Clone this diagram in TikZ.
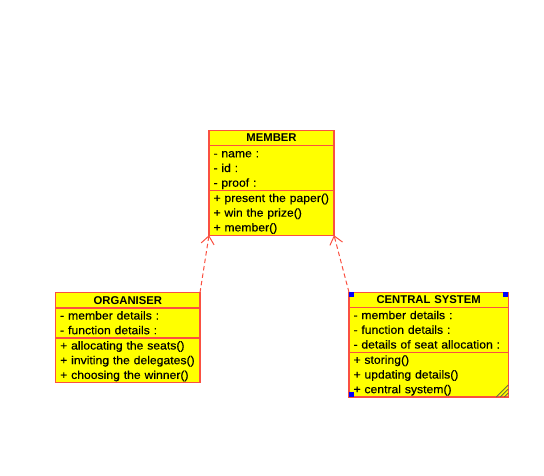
\documentclass[tikz,border=0pt]{standalone}
\usepackage{fontspec}
\setmainfont{Liberation Sans}
\newfontfamily\entryfont[FakeStretch=1.06, FakeBold=0.3]{Liberation Sans}
\usetikzlibrary{positioning,arrows.meta}
\definecolor{umlred}{RGB}{250,80,65}
\definecolor{umlyellow}{RGB}{255,255,0}
\definecolor{gripgray}{RGB}{110,110,60}
\newcommand{\ls}{\rule[-3.5pt]{0pt}{14.7pt}}

\begin{document}
\begin{tikzpicture}[x=1pt, y=-1pt,
    classhead/.style={draw=umlred, fill=umlyellow, line width=1.3pt, outer sep=0pt,
      inner xsep=4.5pt, inner ysep=0.3pt, align=center,
      font=\fontsize{11.3}{14.7}\selectfont\bfseries},
    classpart/.style={draw=umlred, fill=umlyellow, line width=1.3pt, outer sep=0pt,
      inner xsep=4.5pt, inner ysep=0.3pt, align=left,
      font=\entryfont\fontsize{11.5}{14.7}\selectfont},
    dep/.style={draw=umlred, line width=1pt, dash pattern=on 4.5pt off 3pt,
      -{Straight Barb[length=8pt, width=13pt]}}]
  \useasboundingbox (0,0) rectangle (544,476);

  % member
  \node[classhead, text width=116pt, anchor=north west] (member-head) at (209,130.5) {\ls MEMBER};
  \node[classpart, text width=116pt, below=0pt of member-head] (member-attr) {\ls- name :\\\ls- id :\\\ls- proof :};
  \node[classpart, text width=116pt, below=0pt of member-attr] (member-ops) {\ls+ present the paper()\\\ls+ win the prize()\\\ls+ member()};

  % organiser
  \node[classhead, text width=135.3pt, anchor=north west] (org-head) at (55.7,292.7) {\ls ORGANISER};
  \node[classpart, text width=135.3pt, below=0pt of org-head] (org-attr) {\ls- member details :\\\ls- function details :};
  \node[classpart, text width=135.3pt, below=0pt of org-attr] (org-ops) {\ls+ allocating the seats()\\\ls+ inviting the delegates()\\\ls+ choosing the winner()};

  % central system (selected)
  \node[classhead, text width=150.3pt, anchor=north west] (central-head) at (349,292.3) {\ls CENTRAL SYSTEM};
  \node[classpart, text width=150.3pt, below=0pt of central-head] (central-attr) {\ls- member details :\\\ls- function details :\\\ls- details of seat allocation :};
  \node[classpart, text width=150.3pt, below=0pt of central-attr] (central-ops) {\ls+ storing()\\\ls+ updating details()\\\ls+ central system()};

  \fill[blue] (central-head.north west) rectangle ++(5,5);
  \fill[blue] (central-head.north east) rectangle ++(-5,5);
  \fill[blue] (central-ops.south west) rectangle ++(5,-5);
  \foreach \k in {4,8,12}
    \draw[gripgray, line width=0.8pt] ([xshift=-\k pt]central-ops.south east) -- ([yshift=\k pt]central-ops.south east);

  \draw[dep] (org-head.north east) -- (member-ops.south west);
  \draw[dep] (central-head.north west) -- (member-ops.south east);
\end{tikzpicture}
\end{document}
